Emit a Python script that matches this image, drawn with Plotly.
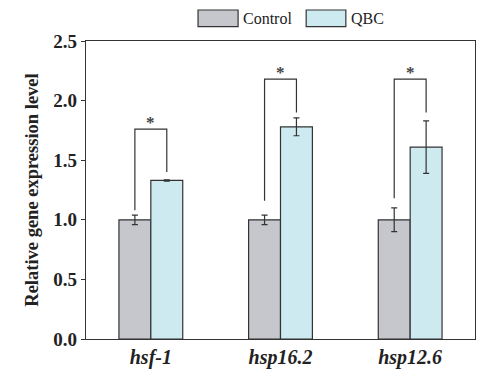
import plotly.graph_objects as go

genes = ["hsf-1", "hsp16.2", "hsp12.6"]
control = [1.00, 1.00, 1.00]
control_err = [0.04, 0.04, 0.10]
qbc = [1.33, 1.78, 1.61]
qbc_err = [0.005, 0.075, 0.22]
bracket_top = [1.76, 2.18, 2.18]
bracket_left = [1.08, 1.16, 1.18]
bracket_right = [1.40, 1.90, 1.90]
series_names = ["Control", "QBC"]
series_colors = ["#C5C7CC", "#CDEAF1"]

FONT = "Liberation Serif"
EDGE = "#333333"
x = list(range(len(genes)))

fig = go.Figure()
for name, vals, errs, col in [(series_names[0], control, control_err, series_colors[0]),
                              (series_names[1], qbc, qbc_err, series_colors[1])]:
    fig.add_trace(go.Bar(
        x=x, y=vals, name=name, showlegend=False,
        marker=dict(color=col, line=dict(color=EDGE, width=1.2)),
        error_y=dict(type="data", array=errs, color=EDGE, thickness=1.2, width=3),
    ))

off = 0.123
for i in x:
    fig.add_trace(go.Scatter(
        x=[i - off, i - off, i + off, i + off],
        y=[bracket_left[i], bracket_top[i], bracket_top[i], bracket_right[i]],
        mode="lines", line=dict(color=EDGE, width=1.2),
        showlegend=False, hoverinfo="skip",
    ))
    fig.add_annotation(x=i, y=bracket_top[i], text="<b>*</b>", showarrow=False,
                       yanchor="bottom", yshift=-5, font=dict(family=FONT, size=17, color="#444444"))

# custom legend (wide swatches as in the reference)
leg_boxes = [(0.288, 0.391), (0.566, 0.668)]
for (x0, x1), col, name in zip(leg_boxes, series_colors, series_names):
    fig.add_shape(type="rect", xref="paper", yref="paper", x0=x0, x1=x1, y0=1.048, y1=1.104,
                  fillcolor=col, line=dict(color=EDGE, width=1.2))
    fig.add_annotation(xref="paper", yref="paper", x=x1 + 0.008, y=1.074, text=name,
                       showarrow=False, xanchor="left", yanchor="middle",
                       font=dict(family=FONT, size=16, color="#222222"))

fig.update_layout(
    width=480, height=384,
    margin=dict(l=86, r=5, t=41, b=45),
    paper_bgcolor="white", plot_bgcolor="white",
    barmode="group", bargap=0.508, bargroupgap=0,
    font=dict(family=FONT, color="#222222"),
    showlegend=False,
    xaxis=dict(range=[-0.5, 2.5], tickvals=x,
               ticktext=[f"<b><i>{g}</i></b>" for g in genes],
               tickfont=dict(family=FONT, size=20, color="#222222"),
               showline=True, linecolor=EDGE, linewidth=1.2, mirror=True,
               ticks="", showgrid=False, zeroline=False),
    yaxis=dict(range=[0, 2.5], tickvals=[0, 0.5, 1.0, 1.5, 2.0, 2.5],
               ticktext=[f"<b>{v:.1f}</b>" for v in [0, 0.5, 1.0, 1.5, 2.0, 2.5]],
               tickfont=dict(family=FONT, size=19, color="#222222"),
               ticks="outside", ticklen=4, tickcolor=EDGE,
               showline=True, linecolor=EDGE, linewidth=1.2, mirror=True,
               showgrid=False, zeroline=False,
               title=dict(text="<b>Relative gene expression level</b>",
                          font=dict(family=FONT, size=18.5, color="#222222"), standoff=9)),
)

fig.write_html("out.html")
